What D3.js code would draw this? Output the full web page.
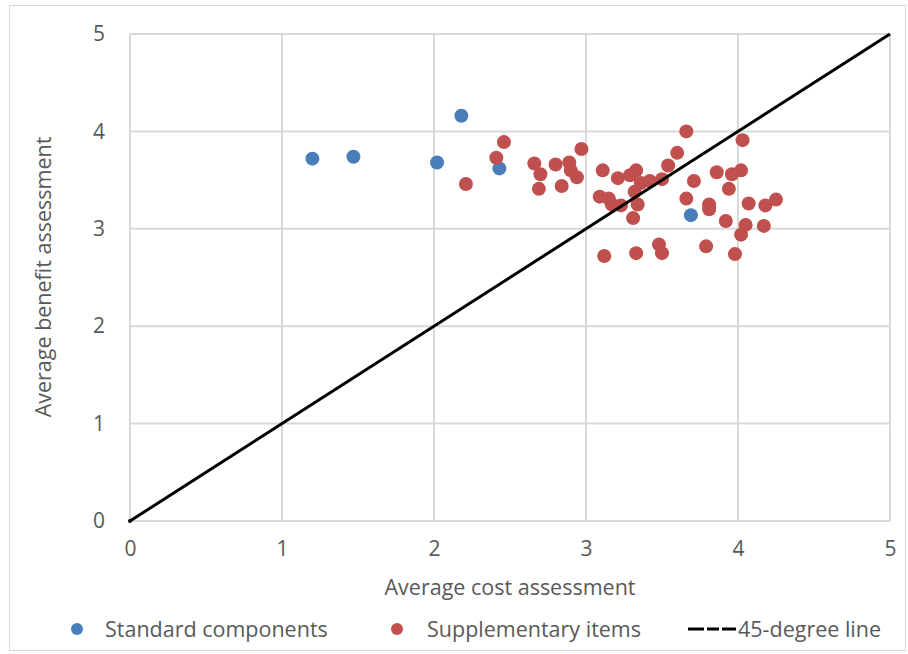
<!DOCTYPE html>
<html><head><meta charset="utf-8">
<script src="https://cdn.jsdelivr.net/npm/d3@7"></script>
<style>body{margin:0;background:#fff}text{font-family:"Open Sans",sans-serif;fill:#595959}</style>
</head><body><svg id="c" width="908" height="654"></svg>
<script>
const standardX = [1.20, 1.47, 2.02, 2.18, 2.43, 3.69];
const standardY = [3.72, 3.74, 3.68, 4.16, 3.62, 3.14];
const suppX = [2.46, 2.41, 2.21, 2.66, 2.70, 2.69, 2.80, 2.84, 2.89, 2.90, 2.94, 2.97, 3.11, 3.09, 3.15, 3.17, 3.23, 3.21, 3.29, 3.33, 3.36, 3.42, 3.32, 3.34, 3.31, 3.50, 3.54, 3.60, 3.66, 3.71, 3.66, 3.81, 3.81, 3.12, 3.33, 3.48, 3.50, 3.79, 4.03, 3.86, 3.96, 4.02, 3.94, 4.07, 4.18, 4.25, 3.92, 4.05, 4.02, 4.17, 3.98];
const suppY = [3.89, 3.73, 3.46, 3.67, 3.56, 3.41, 3.66, 3.44, 3.68, 3.60, 3.53, 3.82, 3.60, 3.33, 3.31, 3.25, 3.24, 3.52, 3.55, 3.60, 3.47, 3.49, 3.38, 3.25, 3.11, 3.51, 3.65, 3.78, 4.00, 3.49, 3.31, 3.25, 3.20, 2.72, 2.75, 2.84, 2.75, 2.82, 3.91, 3.58, 3.56, 3.60, 3.41, 3.26, 3.24, 3.30, 3.08, 3.04, 2.94, 3.03, 2.74];
const lineX = [0, 5];
const lineY = [0, 5];
const ticks = [0, 1, 2, 3, 4, 5];
const seriesNames = ["Standard components", "Supplementary items", "45-degree line"];
const colors = ["#4a7ebb", "#c0504d", "#000000"];

const svg = d3.select("#c");
svg.append("rect").attr("x",9.5).attr("y",5.5).attr("width",896).attr("height",645)
  .attr("fill","#fff").attr("stroke","#d9d9d9");

const x = d3.scaleLinear().domain([0,5]).range([130,890]);
const y = d3.scaleLinear().domain([0,5]).range([521,34]);

const g = svg.append("g");
g.selectAll(".vg").data(ticks).join("line")
  .attr("x1",d=>x(d)).attr("x2",d=>x(d)).attr("y1",y(0)).attr("y2",y(5))
  .attr("stroke","#d9d9d9").attr("stroke-width",2);
g.selectAll(".hg").data(ticks).join("line")
  .attr("y1",d=>y(d)).attr("y2",d=>y(d)).attr("x1",x(0)).attr("x2",x(5))
  .attr("stroke","#d9d9d9").attr("stroke-width",2);

const xa = svg.append("g").attr("transform",`translate(0,${y(0)})`)
  .call(d3.axisBottom(x).tickValues(ticks).tickSize(0).tickPadding(20).tickFormat(d3.format("d")));
const ya = svg.append("g").attr("transform",`translate(${x(0)},0)`)
  .call(d3.axisLeft(y).tickValues(ticks).tickSize(0).tickPadding(25).tickFormat(d3.format("d")));
[xa,ya].forEach(a=>{a.select(".domain").remove();a.selectAll("text").attr("font-size",21).style("font-family","'Open Sans',sans-serif").attr("fill","#595959");});

// points
svg.append("g").selectAll("circle").data(standardX.map((v,i)=>[v,standardY[i]])).join("circle")
  .attr("cx",d=>x(d[0])).attr("cy",d=>y(d[1])).attr("r",7).attr("fill",colors[0]);
svg.append("g").selectAll("circle").data(suppX.map((v,i)=>[v,suppY[i]])).join("circle")
  .attr("cx",d=>x(d[0])).attr("cy",d=>y(d[1])).attr("r",7).attr("fill",colors[1]);

// 45 line
svg.append("path").datum(lineX.map((v,i)=>[v,lineY[i]]))
  .attr("d",d3.line().x(d=>x(d[0])).y(d=>y(d[1])))
  .attr("stroke","#000").attr("stroke-width",3).attr("fill","none");
svg.append("circle").attr("cx",x(0)).attr("cy",y(0)).attr("r",2).attr("fill","#000");

// axis titles
svg.append("text").attr("x",510).attr("y",595).attr("text-anchor","middle").attr("font-size",21.5).text("Average cost assessment");
svg.append("text").attr("transform","translate(51,277) rotate(-90)").attr("text-anchor","middle").attr("font-size",21.5).text("Average benefit assessment");

// legend
const leg = svg.append("g");
leg.append("circle").attr("cx",77).attr("cy",629).attr("r",6).attr("fill",colors[0]);
leg.append("text").attr("x",105).attr("y",637).attr("font-size",21.5).text(seriesNames[0]);
leg.append("circle").attr("cx",397).attr("cy",629).attr("r",6).attr("fill",colors[1]);
leg.append("text").attr("x",427).attr("y",637).attr("font-size",21.5).text(seriesNames[1]);
leg.append("line").attr("x1",688).attr("x2",736).attr("y1",629).attr("y2",629)
  .attr("stroke","#000").attr("stroke-width",3).attr("stroke-dasharray","16,3,12,3,14");
leg.append("text").attr("x",738).attr("y",637).attr("font-size",21.5).text(seriesNames[2]);
</script></body></html>
